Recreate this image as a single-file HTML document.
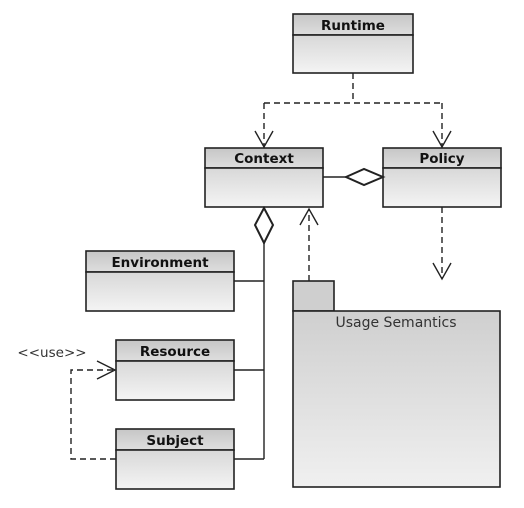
<!DOCTYPE html>
<html><head><style>body{margin:0;background:#fff}</style></head><body>
<svg width="524" height="503" xmlns="http://www.w3.org/2000/svg" font-family="'DejaVu Sans','Liberation Sans',sans-serif">
<defs>
<linearGradient id="h" x1="0" y1="0" x2="0" y2="1"><stop offset="0" stop-color="#c6c6c6"/><stop offset="1" stop-color="#dedede"/></linearGradient>
<linearGradient id="b" x1="0" y1="0" x2="0" y2="1"><stop offset="0" stop-color="#d8d8d8"/><stop offset="1" stop-color="#f4f4f4"/></linearGradient>
<linearGradient id="p" x1="0" y1="0" x2="0" y2="1"><stop offset="0" stop-color="#cfcfcf"/><stop offset="1" stop-color="#f0f0f0"/></linearGradient>
</defs>
<g stroke="#222" stroke-width="1.6">
<rect x="293" y="14" width="120" height="21" fill="url(#h)"/><rect x="293" y="35" width="120" height="38" fill="url(#b)"/>
<rect x="205" y="148" width="118" height="20" fill="url(#h)"/><rect x="205" y="168" width="118" height="39" fill="url(#b)"/>
<rect x="383" y="148" width="118" height="20" fill="url(#h)"/><rect x="383" y="168" width="118" height="39" fill="url(#b)"/>
<rect x="86" y="251" width="148" height="21" fill="url(#h)"/><rect x="86" y="272" width="148" height="39" fill="url(#b)"/>
<rect x="116" y="340" width="118" height="21" fill="url(#h)"/><rect x="116" y="361" width="118" height="39" fill="url(#b)"/>
<rect x="116" y="429" width="118" height="21" fill="url(#h)"/><rect x="116" y="450" width="118" height="39" fill="url(#b)"/>
<rect x="293" y="281" width="41" height="30" fill="#cfcfcf"/>
<rect x="293" y="311" width="207" height="176" fill="url(#p)"/>
</g>
<g fill="none" stroke="#222" stroke-width="1.4">
<path d="M353 73V103M264 103H442M264 103V148M442 103V148" stroke-dasharray="6,4"/>
<path d="M255 131L264 147L273 131M433 131L442 147L451 131"/>
<path d="M323 177H346"/><path d="M346 177L364 169L383 177L364 185Z" fill="#fff" stroke-width="2"/>
<path d="M264 208L273 225L264 243L255 225Z" fill="#fff" stroke-width="2"/>
<path d="M264 243V459M234 281H264M234 370H264M234 459H264"/>
<path d="M309 281V209" stroke-dasharray="6,4"/><path d="M300 225L309 209L318 225"/>
<path d="M442 207V278" stroke-dasharray="6,4"/><path d="M433 263L442 279L451 263"/>
<path d="M116 459H71V370H116" stroke-dasharray="6,4"/><path d="M97 361L115 370L97 379"/>
</g>
<g font-weight="bold" font-size="13.5" text-anchor="middle" fill="#111">
<text x="353" y="30">Runtime</text>
<text x="264" y="163">Context</text>
<text x="442" y="163">Policy</text>
<text x="160" y="267">Environment</text>
<text x="175" y="356">Resource</text>
<text x="175" y="445">Subject</text>
</g>
<text x="396" y="327" font-size="14" text-anchor="middle" fill="#333">Usage Semantics</text>
<text x="52" y="357" font-size="13.5" text-anchor="middle" fill="#333">&lt;&lt;use&gt;&gt;</text>
</svg>
</body></html>
